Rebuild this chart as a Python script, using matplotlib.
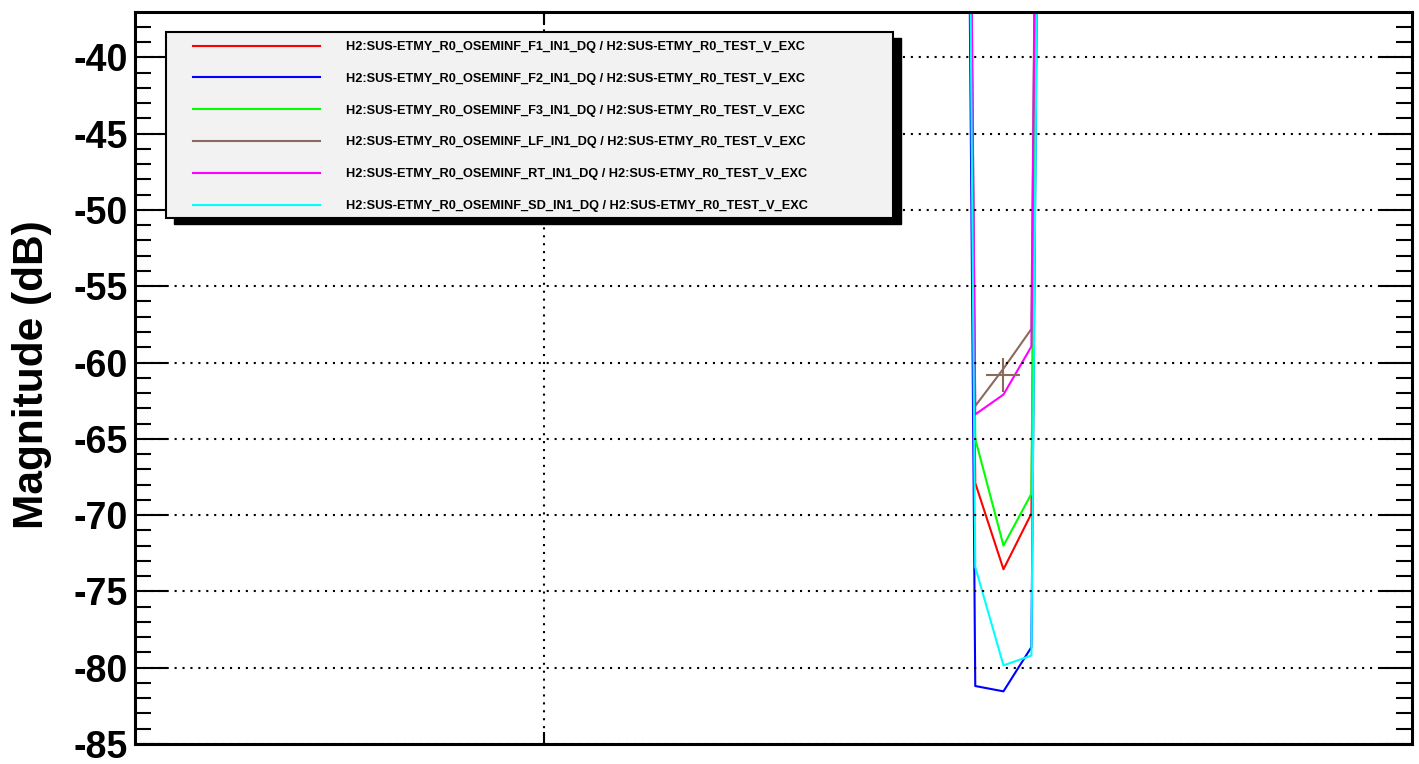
import numpy as np
import matplotlib
matplotlib.use('Agg')
import matplotlib.pyplot as plt
from matplotlib.patches import Rectangle

plt.rcParams['font.family'] = ['Liberation Sans', 'DejaVu Sans']
plt.rcParams['axes.unicode_minus'] = False

# frequency points (Hz, log axis) and magnitudes (dB)
freq = [2.52, 2.69, 2.87, 3.06, 3.27]
mag_f1 = [150, -67.9, -73.55, -69.9, 150]
mag_f2 = [150, -81.2, -81.55, -78.65, 150]
mag_f3 = [150, -65.0, -72.0, -68.6, 150]
mag_lf = [150, -62.85, -60.4, -57.8, 150]
mag_rt = [150, -63.4, -62.1, -58.95, 150]
mag_sd = [150, -73.4, -79.85, -79.2, 150]
marker_f = [2.87]
marker_mag = [-60.8]

labels = ['H2:SUS-ETMY_R0_OSEMINF_%s_IN1_DQ / H2:SUS-ETMY_R0_TEST_V_EXC' % s
          for s in ['F1', 'F2', 'F3', 'LF', 'RT', 'SD']]
colors = ['#ff0000', '#0000ff', '#00ff00', '#8b6a5c', '#ff00ff', '#00ffff']
series = [mag_f1, mag_f2, mag_f3, mag_lf, mag_rt, mag_sd]
yticks = list(range(-85, -39, 5))

W, H = 1419, 764
fig = plt.figure(figsize=(W / 100, H / 100), dpi=100)
ax = fig.add_axes([135 / W, 20 / H, 1277 / W, 732 / H])

handles = []
for y, c, lab in zip(series, colors, labels):
    h, = ax.plot(freq, y, color=c, lw=1.5, label=lab)
    handles.append(h)
ax.plot(marker_f, marker_mag, ls='none', marker='+', ms=24, mew=1.5, color=colors[3])

ax.set_xscale('log')
ax.set_xlim(0.391, 7.33)
ax.set_ylim(-85, -37.03)
ax.set_xticks([1])
ax.set_xticklabels([])
ax.xaxis.set_minor_locator(plt.NullLocator())
ax.set_yticks(yticks)
ax.set_yticks(np.arange(-85, -37, 1), minor=True)
ax.set_yticklabels([str(v) for v in yticks], fontsize=27, fontweight='bold')

ax.tick_params(axis='y', which='major', direction='in', length=23, width=1.5,
               left=True, right=True, pad=5)
ax.tick_params(axis='y', which='minor', direction='in', length=11.5, width=1.5,
               left=True, right=True)
ax.tick_params(axis='x', which='major', direction='in', length=9, width=1.5,
               top=True, bottom=True)
for s in ax.spines.values():
    s.set_linewidth(2.2)

ax.grid(True, which='major', color='black', ls=(0, (1, 2.8)), lw=1.5)
ax.set_axisbelow(False)

ax.set_ylabel('Magnitude (dB)', fontsize=30.5, fontweight='bold')
ax.yaxis.set_label_coords(-0.065, 0.504)

# legend box with ROOT-like shadow
x0, y0, x1, y1 = 166, 31.7, 893, 218
shadow = Rectangle(((x0 + 8) / W, 1 - (y1 + 6) / H), (x1 - x0) / W, (y1 - y0) / H,
                   transform=fig.transFigure, facecolor='black', edgecolor='black',
                   zorder=4.8, clip_on=False)
frame = Rectangle((x0 / W, 1 - y1 / H), (x1 - x0) / W, (y1 - y0) / H,
                  transform=fig.transFigure, facecolor='#f2f2f2', edgecolor='black',
                  lw=1.5, zorder=4.9, clip_on=False)
ax.add_patch(shadow)
ax.add_patch(frame)
leg = ax.legend(handles=handles, loc='upper left', bbox_to_anchor=(193 / W, 1 - 41 / H),
                bbox_transform=fig.transFigure, frameon=False, borderpad=0,
                borderaxespad=0, handlelength=9.9, handletextpad=2.1,
                labelspacing=1.55, prop={'size': 9.2, 'weight': 'bold'})
leg.set_zorder(5)

fig.savefig('out.png', dpi=100)
